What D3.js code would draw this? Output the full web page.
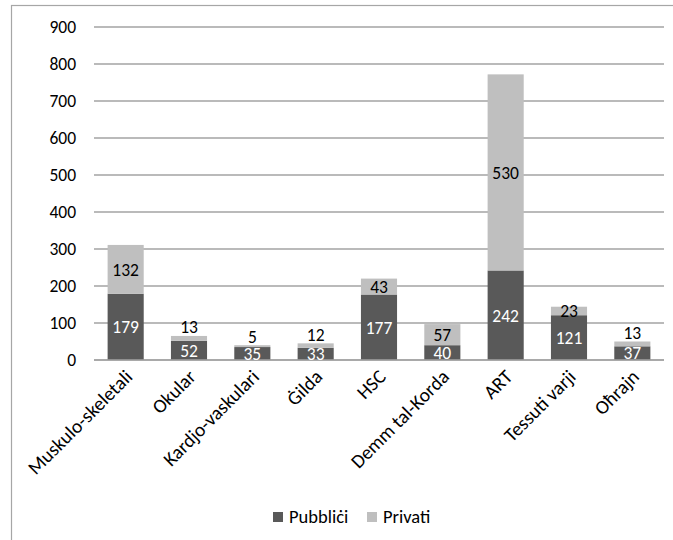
<!DOCTYPE html>
<html>
  <head>
    <meta charset="utf-8">
    <script src="https://d3js.org/d3.v7.min.js"></script>
    <style>
      body { margin: 0; background: #fff; }
      text { font-family: Carlito, Calibri, "Open Sans", sans-serif; }
    </style>
  </head>
<body>
  <script type="text/javascript">
    "use strict";

    // data
    var categories = ["Muskulo-skeletali", "Okular", "Kardjo-vaskulari", "Ġilda", "HSC",
                      "Demm tal-Korda", "ART", "Tessuti varji", "Oħrajn"];
    var pubblici = [179, 52, 35, 33, 177, 40, 242, 121, 37];
    var privati  = [132, 13, 5, 12, 43, 57, 530, 23, 13];
    var seriesNames = ["Pubbliċi", "Privati"];
    var yTicks = [0, 100, 200, 300, 400, 500, 600, 700, 800, 900];

    var width = 673, height = 540;
    var dark = "#595959", light = "#bfbfbf", grid = "#a3a3a3";

    var svg = d3.select("body")
      .append("svg")
        .attr("width", width)
        .attr("height", height);

    // chart frame (runs off the right and bottom edges like the original)
    svg.append("rect")
      .attr("x", 11.5).attr("y", 5.5)
      .attr("width", 700).attr("height", 600)
      .attr("fill", "none")
      .attr("stroke", "#a6a6a6")
      .attr("stroke-width", 1.2);

    var plot = { left: 94, right: 664, top: 27, bottom: 360 };

    var x = d3.scaleBand()
      .domain(categories)
      .range([plot.left, plot.right])
      .paddingInner(0.43)
      .paddingOuter(0.215);

    var y = d3.scaleLinear()
      .domain([0, 900])
      .range([plot.bottom, plot.top]);

    // gridlines
    svg.append("g")
      .selectAll("line")
      .data(yTicks)
      .enter()
      .append("line")
        .attr("x1", plot.left).attr("x2", plot.right)
        .attr("y1", function (d) { return y(d); })
        .attr("y2", function (d) { return y(d); })
        .attr("stroke", grid)
        .attr("stroke-width", 1.3);

    // y axis labels
    var yAxis = d3.axisLeft(y).tickValues(yTicks).tickSize(0).tickPadding(18);
    var yg = svg.append("g")
      .attr("transform", "translate(" + plot.left + ",0)")
      .call(yAxis);
    yg.select(".domain").remove();
    yg.selectAll("text")
      .style("font-family", "Carlito, Calibri, 'Open Sans', sans-serif")
      .style("font-size", "17.5px")
      .attr("fill", "#000");

    // stacked data
    var rows = categories.map(function (c, i) {
      return { cat: c, Pubblici: pubblici[i], Privati: privati[i] };
    });
    var stack = d3.stack().keys(["Pubblici", "Privati"]);
    var layers = stack(rows);
    var colors = [dark, light];

    svg.append("clipPath").attr("id", "plotclip")
      .append("rect")
        .attr("x", plot.left).attr("y", 0)
        .attr("width", plot.right - plot.left).attr("height", plot.bottom);

    var layerG = svg.selectAll(".layer")
      .data(layers)
      .enter()
      .append("g")
        .attr("class", "layer")
        .attr("fill", function (d, i) { return colors[i]; });

    layerG.selectAll("rect")
      .data(function (d) { return d; })
      .enter()
      .append("rect")
        .attr("x", function (d) { return x(d.data.cat); })
        .attr("width", x.bandwidth())
        .attr("y", function (d) { return y(d[1]); })
        .attr("height", function (d) { return y(d[0]) - y(d[1]); });

    // x axis line
    svg.append("line")
      .attr("x1", plot.left).attr("x2", plot.right)
      .attr("y1", plot.bottom).attr("y2", plot.bottom)
      .attr("stroke", grid)
      .attr("stroke-width", 1.5);

    // data labels
    var labelG = svg.append("g").attr("clip-path", "url(#plotclip)");
    layers.forEach(function (layer, li) {
      labelG.selectAll(".lab" + li)
        .data(layer)
        .enter()
        .append("text")
          .attr("class", "lab" + li)
          .attr("x", function (d) { return x(d.data.cat) + x.bandwidth() / 2; })
          .attr("y", function (d) {
            var mid = (y(d[0]) + y(d[1])) / 2;
            var h = y(d[0]) - y(d[1]);
            if (li === 1 && h < 6) return y(d[1]) - 9;
            return mid;
          })
          .attr("dy", "0.36em")
          .attr("text-anchor", "middle")
          .style("font-size", "17.5px")
          .attr("fill", li === 0 ? "#fff" : "#000")
          .text(function (d) { return d[1] - d[0]; });
    });

    // category labels, rotated
    svg.append("g")
      .selectAll("text")
      .data(categories)
      .enter()
      .append("text")
        .attr("transform", function (d) {
          return "translate(" + (x(d) + x.bandwidth() / 2 + 8) + "," + (plot.bottom + 18) + ") rotate(-45)";
        })
        .attr("text-anchor", "end")
        .style("font-size", "19.5px")
        .attr("fill", "#000")
        .text(function (d) { return d; });

    // legend
    var legend = svg.append("g").attr("transform", "translate(273,512)");
    var lx = [0, 94];
    seriesNames.forEach(function (name, i) {
      legend.append("rect")
        .attr("x", lx[i]).attr("y", 0)
        .attr("width", 10).attr("height", 10)
        .attr("fill", colors[i]);
      legend.append("text")
        .attr("x", lx[i] + 16).attr("y", 11)
        .style("font-size", "18.5px")
        .attr("fill", "#000")
        .text(name);
    });
  </script>
</body>
</html>
